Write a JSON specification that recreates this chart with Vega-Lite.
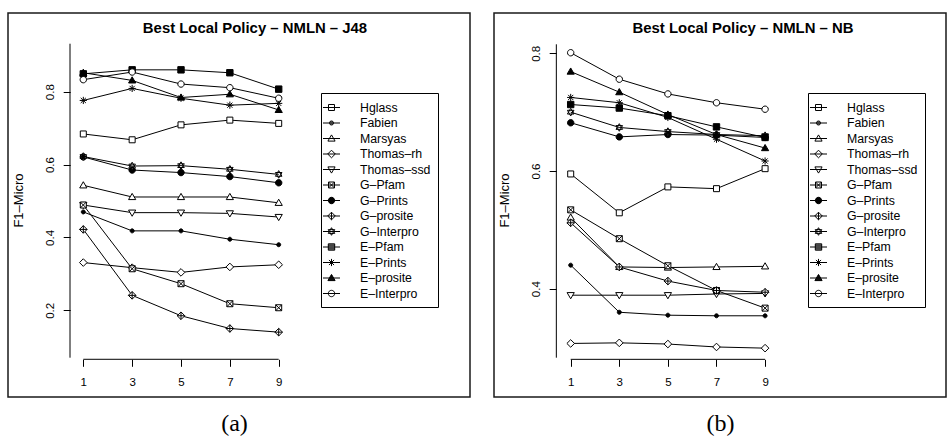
{
"$schema": "https://vega.github.io/schema/vega-lite/v6.json",
"background": "white",
"padding": {"left": 7, "top": 12, "right": 0, "bottom": 0},
"spacing": 22,
"config": {
 "view": {"stroke": "#1a1a1a", "strokeWidth": 1.5},
 "font": "Liberation Sans",
 "axisX": {"domain": false, "grid": false, "offset": -37.7, "tickSize": 7, "tickColor": "black", "tickWidth": 1, "labelFont": "Liberation Sans", "labelFontSize": 11.5, "labelColor": "black", "labelPadding": 10, "labelFlush": false, "labelOverlap": false, "titleFont": "Liberation Serif", "titleFontSize": 24, "titleFontWeight": "normal", "titleColor": "black", "titleX": 226, "titleY": 70.7, "titleBaseline": "alphabetic", "titleAlign": "center"},
 "axisY": {"domain": false, "grid": false, "offset": -62.2, "format": ".1f", "tickSize": 7, "tickColor": "black", "tickWidth": 1, "labelAngle": 270, "labelAlign": "center", "labelBaseline": "alphabetic", "labelPadding": 9.5, "labelFont": "Liberation Sans", "labelFontSize": 11.5, "labelColor": "black", "labelFlush": false, "labelOverlap": false, "titleFont": "Liberation Sans", "titleFontSize": 13, "titleFontWeight": "normal", "titleColor": "black", "titleAngle": 270, "titleX": -51.7, "titleY": 187, "titleAlign": "center", "titleBaseline": "middle"},
 "legend": {"orient": "none", "title": null, "strokeColor": "black", "padding": 7, "rowPadding": 1.5, "symbolSize": 196, "symbolStrokeWidth": 1, "symbolStrokeColor": "black", "symbolFillColor": "white", "labelFont": "Liberation Sans", "labelFontSize": 12.3, "labelColor": "black", "labelOffset": 17, "labelLimit": 200},
 "title": {"font": "Liberation Sans", "fontSize": 14.9, "fontWeight": "bold", "color": "black", "anchor": "middle", "offset": -23, "baseline": "alphabetic"}
},
"datasets": {
"j48": [
{"s":"Hglass","k":1,"v":0.684},{"s":"Hglass","k":3,"v":0.668},{"s":"Hglass","k":5,"v":0.709},{"s":"Hglass","k":7,"v":0.722},{"s":"Hglass","k":9,"v":0.713},
{"s":"Fabien","k":1,"v":0.470},{"s":"Fabien","k":3,"v":0.418},{"s":"Fabien","k":5,"v":0.418},{"s":"Fabien","k":7,"v":0.395},{"s":"Fabien","k":9,"v":0.380},
{"s":"Marsyas","k":1,"v":0.543},{"s":"Marsyas","k":3,"v":0.511},{"s":"Marsyas","k":5,"v":0.511},{"s":"Marsyas","k":7,"v":0.511},{"s":"Marsyas","k":9,"v":0.495},
{"s":"Thomas–rh","k":1,"v":0.331},{"s":"Thomas–rh","k":3,"v":0.317},{"s":"Thomas–rh","k":5,"v":0.304},{"s":"Thomas–rh","k":7,"v":0.319},{"s":"Thomas–rh","k":9,"v":0.325},
{"s":"Thomas–ssd","k":1,"v":0.489},{"s":"Thomas–ssd","k":3,"v":0.468},{"s":"Thomas–ssd","k":5,"v":0.468},{"s":"Thomas–ssd","k":7,"v":0.466},{"s":"Thomas–ssd","k":9,"v":0.456},
{"s":"G–Pfam","k":1,"v":0.489},{"s":"G–Pfam","k":3,"v":0.314},{"s":"G–Pfam","k":5,"v":0.273},{"s":"G–Pfam","k":7,"v":0.218},{"s":"G–Pfam","k":9,"v":0.207},
{"s":"G–Prints","k":1,"v":0.621},{"s":"G–Prints","k":3,"v":0.585},{"s":"G–Prints","k":5,"v":0.578},{"s":"G–Prints","k":7,"v":0.567},{"s":"G–Prints","k":9,"v":0.550},
{"s":"G–prosite","k":1,"v":0.422},{"s":"G–prosite","k":3,"v":0.241},{"s":"G–prosite","k":5,"v":0.185},{"s":"G–prosite","k":7,"v":0.150},{"s":"G–prosite","k":9,"v":0.140},
{"s":"G–Interpro","k":1,"v":0.622},{"s":"G–Interpro","k":3,"v":0.596},{"s":"G–Interpro","k":5,"v":0.597},{"s":"G–Interpro","k":7,"v":0.587},{"s":"G–Interpro","k":9,"v":0.573},
{"s":"E–Pfam","k":1,"v":0.849},{"s":"E–Pfam","k":3,"v":0.860},{"s":"E–Pfam","k":5,"v":0.860},{"s":"E–Pfam","k":7,"v":0.852},{"s":"E–Pfam","k":9,"v":0.807},
{"s":"E–Prints","k":1,"v":0.776},{"s":"E–Prints","k":3,"v":0.809},{"s":"E–Prints","k":5,"v":0.782},{"s":"E–Prints","k":7,"v":0.763},{"s":"E–Prints","k":9,"v":0.768},
{"s":"E–prosite","k":1,"v":0.852},{"s":"E–prosite","k":3,"v":0.831},{"s":"E–prosite","k":5,"v":0.784},{"s":"E–prosite","k":7,"v":0.793},{"s":"E–prosite","k":9,"v":0.750},
{"s":"E–Interpro","k":1,"v":0.833},{"s":"E–Interpro","k":3,"v":0.854},{"s":"E–Interpro","k":5,"v":0.821},{"s":"E–Interpro","k":7,"v":0.811},{"s":"E–Interpro","k":9,"v":0.782}
],
"nb": [
{"s":"Hglass","k":1,"v":0.595},{"s":"Hglass","k":3,"v":0.529},{"s":"Hglass","k":5,"v":0.573},{"s":"Hglass","k":7,"v":0.570},{"s":"Hglass","k":9,"v":0.604},
{"s":"Fabien","k":1,"v":0.440},{"s":"Fabien","k":3,"v":0.360},{"s":"Fabien","k":5,"v":0.355},{"s":"Fabien","k":7,"v":0.354},{"s":"Fabien","k":9,"v":0.354},
{"s":"Marsyas","k":1,"v":0.521},{"s":"Marsyas","k":3,"v":0.437},{"s":"Marsyas","k":5,"v":0.436},{"s":"Marsyas","k":7,"v":0.437},{"s":"Marsyas","k":9,"v":0.438},
{"s":"Thomas–rh","k":1,"v":0.307},{"s":"Thomas–rh","k":3,"v":0.308},{"s":"Thomas–rh","k":5,"v":0.306},{"s":"Thomas–rh","k":7,"v":0.301},{"s":"Thomas–rh","k":9,"v":0.299},
{"s":"Thomas–ssd","k":1,"v":0.389},{"s":"Thomas–ssd","k":3,"v":0.389},{"s":"Thomas–ssd","k":5,"v":0.389},{"s":"Thomas–ssd","k":7,"v":0.391},{"s":"Thomas–ssd","k":9,"v":0.392},
{"s":"G–Pfam","k":1,"v":0.534},{"s":"G–Pfam","k":3,"v":0.485},{"s":"G–Pfam","k":5,"v":0.439},{"s":"G–Pfam","k":7,"v":0.397},{"s":"G–Pfam","k":9,"v":0.367},
{"s":"G–Prints","k":1,"v":0.682},{"s":"G–Prints","k":3,"v":0.658},{"s":"G–Prints","k":5,"v":0.662},{"s":"G–Prints","k":7,"v":0.661},{"s":"G–Prints","k":9,"v":0.657},
{"s":"G–prosite","k":1,"v":0.512},{"s":"G–prosite","k":3,"v":0.437},{"s":"G–prosite","k":5,"v":0.413},{"s":"G–prosite","k":7,"v":0.397},{"s":"G–prosite","k":9,"v":0.394},
{"s":"G–Interpro","k":1,"v":0.700},{"s":"G–Interpro","k":3,"v":0.674},{"s":"G–Interpro","k":5,"v":0.667},{"s":"G–Interpro","k":7,"v":0.662},{"s":"G–Interpro","k":9,"v":0.660},
{"s":"E–Pfam","k":1,"v":0.713},{"s":"E–Pfam","k":3,"v":0.707},{"s":"E–Pfam","k":5,"v":0.694},{"s":"E–Pfam","k":7,"v":0.675},{"s":"E–Pfam","k":9,"v":0.657},
{"s":"E–Prints","k":1,"v":0.725},{"s":"E–Prints","k":3,"v":0.716},{"s":"E–Prints","k":5,"v":0.691},{"s":"E–Prints","k":7,"v":0.654},{"s":"E–Prints","k":9,"v":0.617},
{"s":"E–prosite","k":1,"v":0.769},{"s":"E–prosite","k":3,"v":0.734},{"s":"E–prosite","k":5,"v":0.696},{"s":"E–prosite","k":7,"v":0.662},{"s":"E–prosite","k":9,"v":0.639},
{"s":"E–Interpro","k":1,"v":0.801},{"s":"E–Interpro","k":3,"v":0.756},{"s":"E–Interpro","k":5,"v":0.731},{"s":"E–Interpro","k":7,"v":0.716},{"s":"E–Interpro","k":9,"v":0.705}
]
},
"hconcat": [
{
"width": 462, "height": 384,
"data": {"name": "j48"},
"title": {"text": "Best Local Policy – NMLN – J48", "dx": 16},
"layer": [
{"data": {"values": [{}]}, "mark": {"type": "rule", "color": "black", "strokeWidth": 1},
 "encoding": {"x": {"datum": 0.4554, "type": "quantitative", "scale": {"domain": [-2.083, 16.832], "nice": false, "zero": false}},
 "y": {"datum": 0.9317, "type": "quantitative", "scale": {"domain": [-0.038, 1.016], "nice": false, "zero": false}}, "y2": {"datum": 0.0699}}},
{"data": {"values": [{}]}, "mark": {"type": "rule", "color": "black", "strokeWidth": 1},
 "encoding": {"x": {"datum": 1, "type": "quantitative", "scale": {"domain": [-2.083, 16.832], "nice": false, "zero": false}}, "x2": {"datum": 9},
 "y": {"datum": 0.0655, "type": "quantitative", "scale": {"domain": [-0.038, 1.016], "nice": false, "zero": false}}}},
{"mark": {"type": "line", "color": "black", "strokeWidth": 1},
 "encoding": {
 "x": {"field": "k", "type": "quantitative", "scale": {"domain": [-2.083, 16.832], "nice": false, "zero": false}, "axis": {"values": [1,3,5,7,9], "title": "(a)"}},
 "y": {"field": "v", "type": "quantitative", "scale": {"domain": [-0.038, 1.016], "nice": false, "zero": false}, "axis": {"values": [0.2,0.4,0.6,0.8], "title": "F1–Micro"}},
 "detail": {"field": "s", "type": "nominal"}}},
{"mark": {"type": "point", "stroke": "black", "strokeWidth": 1, "size": 64, "opacity": 1},
 "encoding": {
 "x": {"field": "k", "type": "quantitative", "scale": {"domain": [-2.083, 16.832], "nice": false, "zero": false}},
 "y": {"field": "v", "type": "quantitative", "scale": {"domain": [-0.038, 1.016], "nice": false, "zero": false}},
 "shape": {"field": "s", "type": "nominal", "legend": null, "scale": {"domain": ["Hglass","Fabien","Marsyas","Thomas–rh","Thomas–ssd","G–Pfam","G–Prints","G–prosite","G–Interpro","E–Pfam","E–Prints","E–prosite","E–Interpro"],
  "range": ["M-0.75,-0.75H0.75V0.75H-0.75Z","M-0.5,0A0.5,0.5,0,1,0,0.5,0A0.5,0.5,0,1,0,-0.5,0Z","M0,-0.9L0.9,0.65H-0.9Z","M0,-0.95L0.95,0L0,0.95L-0.95,0Z","M0,0.9L0.9,-0.65H-0.9Z","M-0.75,-0.75H0.75V0.75H-0.75Z M-0.75,-0.75L0.75,0.75 M0.75,-0.75L-0.75,0.75","M-0.8,0A0.8,0.8,0,1,0,0.8,0A0.8,0.8,0,1,0,-0.8,0Z","M0,-0.95L0.95,0L0,0.95L-0.95,0Z M0,-0.95V0.95 M-0.95,0H0.95","M0,-0.95L0.82,0.47H-0.82Z M0,0.95L0.82,-0.47H-0.82Z","M-0.8,-0.8H0.8V0.8H-0.8Z","M0,-0.9V0.9 M-0.9,0H0.9 M-0.64,-0.64L0.64,0.64 M0.64,-0.64L-0.64,0.64","M0,-0.9L0.9,0.65H-0.9Z","M-0.8,0A0.8,0.8,0,1,0,0.8,0A0.8,0.8,0,1,0,-0.8,0Z"]}},
 "fill": {"field": "s", "type": "nominal", "legend": null, "scale": {"domain": ["Hglass","Fabien","Marsyas","Thomas–rh","Thomas–ssd","G–Pfam","G–Prints","G–prosite","G–Interpro","E–Pfam","E–Prints","E–prosite","E–Interpro"],
  "range": ["white","black","white","white","white","white","black","white","white","black","white","black","white"]}}}},
{"transform": [{"filter": "false"}],
 "mark": {"type": "point", "filled": false, "stroke": "black", "strokeWidth": 1, "opacity": 1},
 "encoding": {
 "x": {"field": "k", "type": "quantitative", "scale": {"domain": [-2.083, 16.832], "nice": false, "zero": false}},
 "y": {"field": "v", "type": "quantitative", "scale": {"domain": [-0.038, 1.016], "nice": false, "zero": false}},
 "shape": {"field": "s", "type": "nominal",
  "legend": {"legendX": 313, "legendY": 80},
  "scale": {"domain": ["Hglass","Fabien","Marsyas","Thomas–rh","Thomas–ssd","G–Pfam","G–Prints","G–prosite","G–Interpro","E–Pfam","E–Prints","E–prosite","E–Interpro"],
  "range": ["M-1.786,0H0.643 M-1,-0.428H-0.143V0.428H-1Z","M-1.786,0H0.643 M-0.857,0A0.286,0.286,0,1,0,-0.285,0A0.286,0.286,0,1,0,-0.857,0Z M-0.819,-0.143H-0.323 M-0.819,0.143H-0.323","M-1.786,0H0.643 M-0.571,-0.514L-0.057,0.371H-1.085Z","M-1.786,0H0.643 M-0.571,-0.542L-0.029,0L-0.571,0.542L-1.113,0Z","M-1.786,0H0.643 M-0.571,0.514L-0.057,-0.371H-1.085Z","M-1.786,0H0.643 M-1,-0.428H-0.143V0.428H-1Z M-1,-0.428L-0.143,0.428 M-0.143,-0.428L-1,0.428","M-1.786,0H0.643 M-1.028,0A0.457,0.457,0,1,0,-0.114,0A0.457,0.457,0,1,0,-1.028,0Z M-0.792,-0.4H-0.35 M-0.927,-0.286H-0.215 M-1.005,-0.143H-0.137 M-1.005,0.143H-0.137 M-0.927,0.286H-0.215 M-0.792,0.4H-0.35","M-1.786,0H0.643 M-0.571,-0.542L-0.029,0L-0.571,0.542L-1.113,0Z M-0.571,-0.542V0.542","M-1.786,0H0.643 M-0.571,-0.542L-0.103,0.268H-1.039Z M-0.571,0.542L-0.103,-0.268H-1.039Z","M-1.786,0H0.643 M-1.028,-0.457H-0.114V0.457H-1.028Z M-1.028,-0.3H-0.114 M-1.028,-0.15H-0.114 M-1.028,0.15H-0.114 M-1.028,0.3H-0.114","M-1.786,0H0.643 M-0.571,-0.514V0.514 M-0.936,-0.365L-0.206,0.365 M-0.206,-0.365L-0.936,0.365","M-1.786,0H0.643 M-0.571,-0.514L-0.057,0.371H-1.085Z M-0.66,-0.36H-0.482 M-0.742,-0.22H-0.4 M-0.823,-0.08H-0.319 M-0.904,0.06H-0.238 M-0.986,0.2H-0.156 M-1.044,0.3H-0.098","M-1.786,0H0.643 M-1.028,0A0.457,0.457,0,1,0,-0.114,0A0.457,0.457,0,1,0,-1.028,0Z"]}}}}
],
"resolve": {"scale": {"shape": "independent"}}
},
{
"width": 452, "height": 384,
"data": {"name": "nb"},
"title": {"text": "Best Local Policy – NMLN – NB", "dx": 23},
"layer": [
{"data": {"values": [{}]}, "mark": {"type": "rule", "color": "black", "strokeWidth": 1},
 "encoding": {"x": {"datum": 0.409, "type": "quantitative", "scale": {"domain": [-2.156, 16.445], "nice": false, "zero": false}},
 "y": {"datum": 0.8153, "type": "quantitative", "scale": {"domain": [0.216, 0.8685], "nice": false, "zero": false}}, "y2": {"datum": 0.2828}}},
{"data": {"values": [{}]}, "mark": {"type": "rule", "color": "black", "strokeWidth": 1},
 "encoding": {"x": {"datum": 1, "type": "quantitative", "scale": {"domain": [-2.156, 16.445], "nice": false, "zero": false}}, "x2": {"datum": 9},
 "y": {"datum": 0.28, "type": "quantitative", "scale": {"domain": [0.216, 0.8685], "nice": false, "zero": false}}}},
{"mark": {"type": "line", "color": "black", "strokeWidth": 1},
 "encoding": {
 "x": {"field": "k", "type": "quantitative", "scale": {"domain": [-2.156, 16.445], "nice": false, "zero": false}, "axis": {"values": [1,3,5,7,9], "title": "(b)"}},
 "y": {"field": "v", "type": "quantitative", "scale": {"domain": [0.216, 0.8685], "nice": false, "zero": false}, "axis": {"values": [0.4,0.6,0.8], "title": "F1–Micro"}},
 "detail": {"field": "s", "type": "nominal"}}},
{"mark": {"type": "point", "stroke": "black", "strokeWidth": 1, "size": 64, "opacity": 1},
 "encoding": {
 "x": {"field": "k", "type": "quantitative", "scale": {"domain": [-2.156, 16.445], "nice": false, "zero": false}},
 "y": {"field": "v", "type": "quantitative", "scale": {"domain": [0.216, 0.8685], "nice": false, "zero": false}},
 "shape": {"field": "s", "type": "nominal", "legend": null, "scale": {"domain": ["Hglass","Fabien","Marsyas","Thomas–rh","Thomas–ssd","G–Pfam","G–Prints","G–prosite","G–Interpro","E–Pfam","E–Prints","E–prosite","E–Interpro"],
  "range": ["M-0.75,-0.75H0.75V0.75H-0.75Z","M-0.5,0A0.5,0.5,0,1,0,0.5,0A0.5,0.5,0,1,0,-0.5,0Z","M0,-0.9L0.9,0.65H-0.9Z","M0,-0.95L0.95,0L0,0.95L-0.95,0Z","M0,0.9L0.9,-0.65H-0.9Z","M-0.75,-0.75H0.75V0.75H-0.75Z M-0.75,-0.75L0.75,0.75 M0.75,-0.75L-0.75,0.75","M-0.8,0A0.8,0.8,0,1,0,0.8,0A0.8,0.8,0,1,0,-0.8,0Z","M0,-0.95L0.95,0L0,0.95L-0.95,0Z M0,-0.95V0.95 M-0.95,0H0.95","M0,-0.95L0.82,0.47H-0.82Z M0,0.95L0.82,-0.47H-0.82Z","M-0.8,-0.8H0.8V0.8H-0.8Z","M0,-0.9V0.9 M-0.9,0H0.9 M-0.64,-0.64L0.64,0.64 M0.64,-0.64L-0.64,0.64","M0,-0.9L0.9,0.65H-0.9Z","M-0.8,0A0.8,0.8,0,1,0,0.8,0A0.8,0.8,0,1,0,-0.8,0Z"]}},
 "fill": {"field": "s", "type": "nominal", "legend": null, "scale": {"domain": ["Hglass","Fabien","Marsyas","Thomas–rh","Thomas–ssd","G–Pfam","G–Prints","G–prosite","G–Interpro","E–Pfam","E–Prints","E–prosite","E–Interpro"],
  "range": ["white","black","white","white","white","white","black","white","white","black","white","black","white"]}}}},
{"transform": [{"filter": "false"}],
 "mark": {"type": "point", "filled": false, "stroke": "black", "strokeWidth": 1, "opacity": 1},
 "encoding": {
 "x": {"field": "k", "type": "quantitative", "scale": {"domain": [-2.156, 16.445], "nice": false, "zero": false}},
 "y": {"field": "v", "type": "quantitative", "scale": {"domain": [0.216, 0.8685], "nice": false, "zero": false}},
 "shape": {"field": "s", "type": "nominal",
  "legend": {"legendX": 314, "legendY": 80},
  "scale": {"domain": ["Hglass","Fabien","Marsyas","Thomas–rh","Thomas–ssd","G–Pfam","G–Prints","G–prosite","G–Interpro","E–Pfam","E–Prints","E–prosite","E–Interpro"],
  "range": ["M-1.786,0H0.643 M-1,-0.428H-0.143V0.428H-1Z","M-1.786,0H0.643 M-0.857,0A0.286,0.286,0,1,0,-0.285,0A0.286,0.286,0,1,0,-0.857,0Z M-0.819,-0.143H-0.323 M-0.819,0.143H-0.323","M-1.786,0H0.643 M-0.571,-0.514L-0.057,0.371H-1.085Z","M-1.786,0H0.643 M-0.571,-0.542L-0.029,0L-0.571,0.542L-1.113,0Z","M-1.786,0H0.643 M-0.571,0.514L-0.057,-0.371H-1.085Z","M-1.786,0H0.643 M-1,-0.428H-0.143V0.428H-1Z M-1,-0.428L-0.143,0.428 M-0.143,-0.428L-1,0.428","M-1.786,0H0.643 M-1.028,0A0.457,0.457,0,1,0,-0.114,0A0.457,0.457,0,1,0,-1.028,0Z M-0.792,-0.4H-0.35 M-0.927,-0.286H-0.215 M-1.005,-0.143H-0.137 M-1.005,0.143H-0.137 M-0.927,0.286H-0.215 M-0.792,0.4H-0.35","M-1.786,0H0.643 M-0.571,-0.542L-0.029,0L-0.571,0.542L-1.113,0Z M-0.571,-0.542V0.542","M-1.786,0H0.643 M-0.571,-0.542L-0.103,0.268H-1.039Z M-0.571,0.542L-0.103,-0.268H-1.039Z","M-1.786,0H0.643 M-1.028,-0.457H-0.114V0.457H-1.028Z M-1.028,-0.3H-0.114 M-1.028,-0.15H-0.114 M-1.028,0.15H-0.114 M-1.028,0.3H-0.114","M-1.786,0H0.643 M-0.571,-0.514V0.514 M-0.936,-0.365L-0.206,0.365 M-0.206,-0.365L-0.936,0.365","M-1.786,0H0.643 M-0.571,-0.514L-0.057,0.371H-1.085Z M-0.66,-0.36H-0.482 M-0.742,-0.22H-0.4 M-0.823,-0.08H-0.319 M-0.904,0.06H-0.238 M-0.986,0.2H-0.156 M-1.044,0.3H-0.098","M-1.786,0H0.643 M-1.028,0A0.457,0.457,0,1,0,-0.114,0A0.457,0.457,0,1,0,-1.028,0Z"]}}}}
],
"resolve": {"scale": {"shape": "independent"}}
}
]
}
